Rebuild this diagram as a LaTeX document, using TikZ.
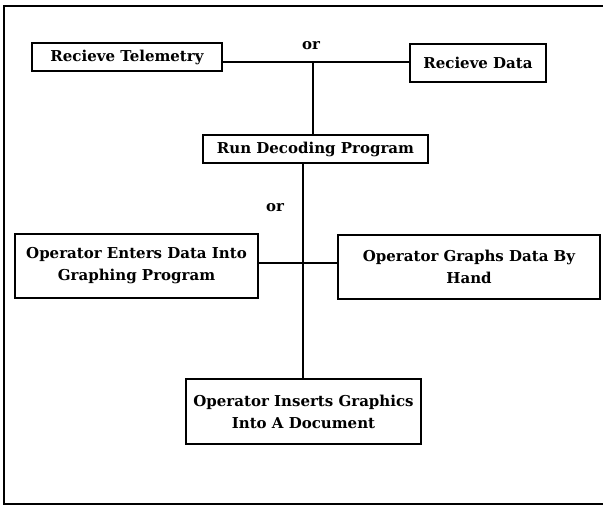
\documentclass[tikz,border=0pt]{standalone}
\usepackage{fontspec}
\setmainfont{DejaVu Serif}
\begin{document}
\begin{tikzpicture}[x=1pt,y=-1pt,
  box/.style={draw,line width=2pt,inner sep=0pt,align=center,font=\bfseries\fontsize{15}{22}\selectfont},
  conn/.style={line width=2pt},
  lbl/.style={font=\bfseries\fontsize{15}{17}\selectfont}]
\useasboundingbox (0,0) rectangle (603,506);
\draw[line width=1.3pt] (620,6) -- (4,6) -- (4,504) -- (620,504);
\node[box,minimum width=190pt,minimum height=28pt] (tel) at (127,57) {Recieve Telemetry};
\node[box,minimum width=136pt,minimum height=38pt] (data) at (478,63) {Recieve Data};
\node[box,minimum width=225pt,minimum height=28pt] (run) at (315.5,149) {Run Decoding Program};
\node[box,minimum width=243pt,minimum height=64pt] (enter) at (136.5,266) {Operator Enters Data Into\\Graphing Program};
\node[box,minimum width=262pt,minimum height=64pt] (hand) at (469,267) {Operator Graphs Data By\\Hand};
\node[box,minimum width=235pt,minimum height=65pt] (insert) at (303.5,411.5) {Operator Inserts Graphics\\Into A Document};
\coordinate (j1) at (313,62);
\coordinate (j2) at (303,263);
\node[lbl] (or1) at (311,46) {or};
\node[lbl] (or2) at (275,208) {or};
\draw[conn] (tel.east |- j1) -- (data.west |- j1);
\draw[conn] (j1) -- (run.north -| j1);
\draw[conn] (run.south -| j2) -- (insert.north -| j2);
\draw[conn] (enter.east |- j2) -- (hand.west |- j2);
\end{tikzpicture}
\end{document}
